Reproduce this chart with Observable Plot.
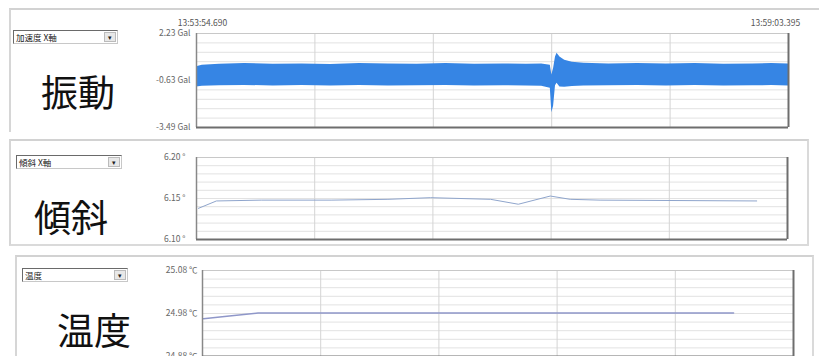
<!DOCTYPE html>
<html>
<head>
<meta charset="utf-8">
<script src="https://cdn.jsdelivr.net/npm/d3@7"></script>
<script src="https://cdn.jsdelivr.net/npm/@observablehq/plot@0.6"></script>
<style>
  html, body { margin: 0; padding: 0; background: #fff; }
  #wrap { position: relative; width: 819px; height: 356px; overflow: hidden; background: #fff;
          font-family: "Noto Sans CJK JP", "Noto Sans", sans-serif; }
  .panel { position: absolute; border-top: 2px solid #d2d2d2; border-left: 2px solid #d6d6d6; box-sizing: border-box; }
  .dd { position: absolute; height: 14px; border: 1px solid #6a6a6a; border-right-color: #c8c8c8; border-bottom-color: #c8c8c8;
        background: #fff; box-sizing: border-box; font-size: 8.5px; line-height: 12px; color: #222; padding-left: 2px; white-space: nowrap; }
  .dd .btn { position: absolute; right: 1px; top: 1px; width: 12px; height: 10px; background: #e8e8e8;
             border: 1px solid #bbb; box-sizing: border-box; font-size: 7px; line-height: 8px; text-align: center; color: #222; }
  .big { position: absolute; font-size: 37px; line-height: 37px; color: #111; white-space: nowrap; }
  svg { position: absolute; left: 0; }
</style>
</head>
<body>
<div id="wrap"></div>
<script>
// ---------- data ----------
const timeLabels = ["13:53:54.690", "13:59:03.395"];
const timeSpan = [0, 308.7]; // seconds

const panelNames = ["振動", "傾斜", "温度"];
const selectorTexts = ["加速度 X軸", "傾斜 X軸", "温度"];

// vibration (acceleration) envelope: time (s), upper and lower extent (Gal)
const vibT  = [0, 3, 12, 25, 40, 55, 70, 85, 100, 115, 130, 145, 160, 172, 180, 184.5, 185.3, 186.2, 187.2, 188, 189.5, 192, 196, 202, 215, 230, 245, 260, 275, 290, 300, 308.7];
const vibHi = [0.2, 0.3, 0.36, 0.4, 0.36, 0.38, 0.35, 0.4, 0.37, 0.36, 0.4, 0.36, 0.38, 0.36, 0.37, 0.3, -0.3, 0.1, 0.8, 1.03, 0.8, 0.6, 0.48, 0.42, 0.38, 0.4, 0.37, 0.4, 0.36, 0.38, 0.4, 0.37];
const vibLo = [-1.02, -0.98, -0.95, -0.93, -0.96, -0.94, -0.97, -0.93, -0.96, -0.95, -0.94, -0.96, -0.95, -0.97, -0.98, -1.1, -2.59, -2.2, -0.95, -0.8, -1.02, -1.04, -1.0, -0.97, -0.95, -0.94, -0.96, -0.93, -0.96, -0.95, -0.94, -0.96];
const vibTicks = [2.23, -0.63, -3.49];

// tilt (X axis): time (s), degrees
const tiltT = [1, 10.4, 33.8, 70.3, 100, 122.3, 153.6, 168.1, 184.8, 195.2, 210.8, 292.6];
const tiltV = [6.138, 6.147, 6.148, 6.148, 6.149, 6.151, 6.149, 6.143, 6.153, 6.149, 6.148, 6.147];
const tiltTicks = [6.20, 6.15, 6.10];

// temperature: time (s), °C
const tempT = [0.5, 14, 29, 100, 200, 277.4];
const tempV = [24.968, 24.974, 24.981, 24.981, 24.981, 24.981];
const tempTicks = [25.08, 24.98, 24.88];

// ---------- layout ----------
const wrap = document.getElementById("wrap");
function addDiv(cls, style, html) {
  const d = document.createElement("div");
  d.className = cls;
  Object.assign(d.style, style);
  if (html !== undefined) d.innerHTML = html;
  wrap.appendChild(d);
  return d;
}
// panel frames
addDiv("panel", {left: "9px", top: "8px", width: "812px", height: "124px"});
addDiv("panel", {left: "9px", top: "139px", width: "800px", height: "107px", borderRight: "2px solid #dadada", borderBottom: "2px solid #dadada"});
addDiv("panel", {left: "15px", top: "255px", width: "799px", height: "110px", borderRight: "2px solid #dadada"});

// selectors
const ddPos = [{l: 13, t: 30, w: 105}, {l: 16, t: 155, w: 106}, {l: 22, t: 268, w: 106}];
ddPos.forEach((p, i) => {
  addDiv("dd", {left: p.l + "px", top: p.t + "px", width: p.w + "px"}, selectorTexts[i] + '<div class="btn">▾</div>');
});
// big labels
const bigPos = [{l: 41, t: 73}, {l: 34, t: 198}, {l: 57, t: 311}];
bigPos.forEach((p, i) => addDiv("big", {left: p.l + "px", top: p.t + "px"}, panelNames[i]));

const fontStyle = {fontFamily: "'Noto Sans CJK JP', 'DejaVu Sans', sans-serif", fontSize: "8.5px", background: "transparent", overflow: "visible"};

function gridVals(dom, n) {
  const [a, b] = dom;
  return d3.range(n + 1).map(i => a + (b - a) * i / n);
}

function panel({top, height, mL, mR, mT, mB, yDom, marks, ticks, fmt, pad}) {
  const svg = Plot.plot({
    width: 819, height,
    marginLeft: mL, marginRight: mR, marginTop: mT, marginBottom: mB,
    x: {domain: timeSpan, axis: null},
    y: {domain: yDom, axis: null},
    style: fontStyle,
    marks: [
      Plot.ruleY(gridVals(yDom, 10), {stroke: "#e2e2e2", strokeWidth: 1}),
      Plot.ruleX(gridVals(timeSpan, 5), {stroke: "#d4d4d4", strokeWidth: 1}),
      ...marks,
      Plot.axisY(ticks, {label: null, tickFormat: fmt, tickSize: 0, tickPadding: pad, fill: "#666", fontSize: 8.5}),
      Plot.ruleY([yDom[1]], {stroke: "#c8c8c8", strokeWidth: 1}),
      Plot.ruleX([timeSpan[0]], {stroke: "#888", strokeWidth: 1.5}),
      Plot.ruleY([yDom[0]], {stroke: "#6e6e6e", strokeWidth: 2}),
      Plot.ruleX([timeSpan[1]], {stroke: "#6e6e6e", strokeWidth: 2})
    ]
  });
  svg.style.top = top + "px";
  wrap.appendChild(svg);
}

// vibration
const vib = vibT.map((t, i) => ({t, hi: vibHi[i], lo: vibLo[i]}));
panel({
  top: 0, height: 135, mL: 196, mR: 31, mT: 33, mB: 8, pad: 6,
  yDom: [-3.49, 2.23], ticks: vibTicks, fmt: d => d.toFixed(2) + " Gal",
  marks: [
    Plot.areaY(vib, {x: "t", y1: "lo", y2: "hi", fill: "#3685e4"}),
    Plot.text([timeLabels[0]], {x: timeSpan[0], frameAnchor: "top", dy: -14, dx: 6, fill: "#555", fontSize: 8.5}),
    Plot.text([timeLabels[1]], {x: timeSpan[1], frameAnchor: "top", dy: -14, dx: -13, fill: "#555", fontSize: 8.5})
  ]
});

// tilt
const tilt = tiltT.map((t, i) => ({t, v: tiltV[i]}));
panel({
  top: 135, height: 115, mL: 196, mR: 32, mT: 22, mB: 11, pad: 11,
  yDom: [6.10, 6.20], ticks: tiltTicks, fmt: d => d.toFixed(2) + " °",
  marks: [Plot.line(tilt, {x: "t", y: "v", stroke: "#8fa5cc", strokeWidth: 1})]
});

// temperature
const temp = tempT.map((t, i) => ({t, v: tempV[i]}));
panel({
  top: 250, height: 106, mL: 202, mR: 26, mT: 20, mB: 0, pad: 5,
  yDom: [24.88, 25.08], ticks: tempTicks, fmt: d => d.toFixed(2) + " ℃",
  marks: [Plot.line(temp, {x: "t", y: "v", stroke: "#8f97c9", strokeWidth: 1.5})]
});
</script>
</body>
</html>
